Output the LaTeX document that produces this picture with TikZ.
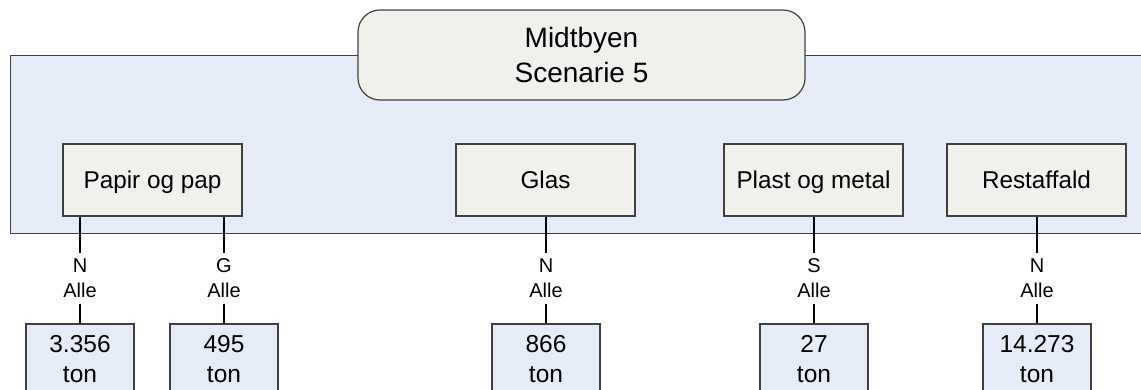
\documentclass[tikz,border=0pt]{standalone}
\usepackage{fontspec}
\setmainfont{Liberation Sans}
\definecolor{panelblue}{RGB}{229,236,247}
\definecolor{boxbeige}{RGB}{240,241,234}
\definecolor{edgegray}{RGB}{64,64,64}
\begin{document}
\begin{tikzpicture}[x=1pt,y=-1pt,
  panel/.style={draw=edgegray,line width=1.2pt,fill=panelblue,inner sep=0pt},
  titlebox/.style={draw=edgegray,line width=1.2pt,fill=boxbeige,rounded corners=22pt,
    minimum width=447pt,minimum height=90pt,inner sep=0pt,align=center,
    font=\fontsize{28}{35}\selectfont},
  catbox/.style={draw=edgegray,line width=1.2pt,fill=boxbeige,minimum width=179pt,
    minimum height=72pt,inner sep=0pt,text depth=0pt,font=\fontsize{24.3}{29}\selectfont},
  lbl/.style={inner sep=0pt,minimum height=50pt,align=center,font=\fontsize{20}{24.5}\selectfont},
  valbox/.style={draw=edgegray,line width=1.2pt,fill=panelblue,minimum width=108pt,
    minimum height=80pt,inner sep=0pt,anchor=north},
  valtext/.style={inner sep=0pt,align=center,font=\fontsize{24.5}{29.2}\selectfont},
  conn/.style={draw=black,line width=2pt}]
\useasboundingbox (0,0) rectangle (1141,389);
\clip (0,0) rectangle (1141,389);

\node[panel,minimum width=1150pt,minimum height=178pt,anchor=north west] (panel) at (10,55) {};
\node[titlebox] (title) at (581.5,55) {Midtbyen\\Scenarie 5};

\node[catbox] (papir) at (152.5,180) {Papir og pap};
\node[catbox] (glas) at (545.5,180) {Glas};
\node[catbox] (plast) at (813.5,180) {Plast og metal};
\node[catbox] (rest) at (1036.5,180) {Restaffald};

\node[lbl] (l1) at (80,278.3) {N\\Alle};
\node[lbl] (l2) at (224,278.3) {G\\Alle};
\node[lbl] (l3) at (546,278.3) {N\\Alle};
\node[lbl] (l4) at (814,278.3) {S\\Alle};
\node[lbl] (l5) at (1037,278.3) {N\\Alle};

\node[valbox] (v1) at (80,323.3) {};
\node[valbox] (v2) at (224,323.3) {};
\node[valbox] (v3) at (546,323.3) {};
\node[valbox] (v4) at (814,323.3) {};
\node[valbox] (v5) at (1037,323.3) {};

\node[valtext] (t1) at (80,359) {3.356\\ton};
\node[valtext] (t2) at (224,359) {495\\ton};
\node[valtext] (t3) at (546,359) {866\\ton};
\node[valtext] (t4) at (814,359) {27\\ton};
\node[valtext] (t5) at (1037,359) {14.273\\ton};

\draw[conn] (papir.south -| l1) -- (l1.north);
\draw[conn] (papir.south -| l2) -- (l2.north);
\draw[conn] (glas.south -| l3) -- (l3.north);
\draw[conn] (plast.south -| l4) -- (l4.north);
\draw[conn] (rest.south -| l5) -- (l5.north);

\draw[conn] (l1.south) -- (v1.north);
\draw[conn] (l2.south) -- (v2.north);
\draw[conn] (l3.south) -- (v3.north);
\draw[conn] (l4.south) -- (v4.north);
\draw[conn] (l5.south) -- (v5.north);
\end{tikzpicture}
\end{document}
